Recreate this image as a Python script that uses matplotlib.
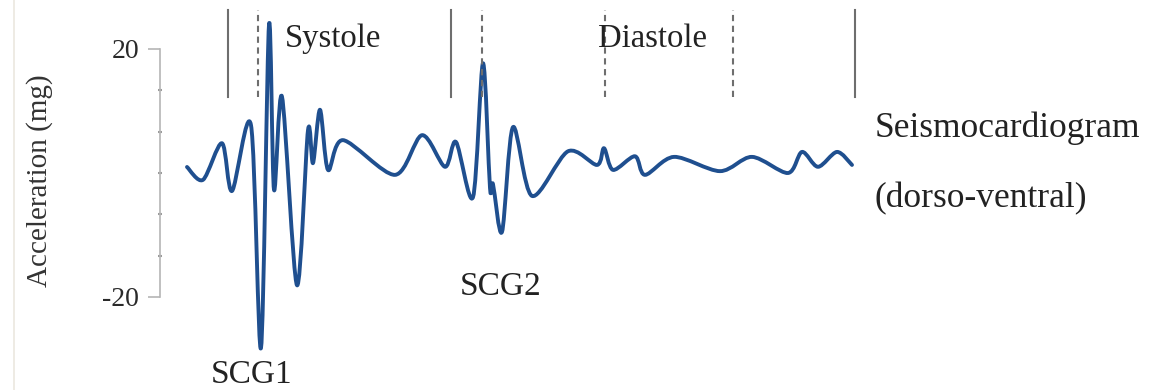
import matplotlib
matplotlib.use("Agg")
import matplotlib.pyplot as plt
import numpy as np
from matplotlib.path import Path
from matplotlib.patches import PathPatch

plt.rcParams["font.family"] = ["Liberation Serif", "DejaVu Serif"]

# one heartbeat of the dorso-ventral SCG (time in ms, acceleration in mg)
t_ms = [1, 17, 36, 46, 65, 75, 83, 88, 96, 111, 122, 127, 134, 142, 157,
        209, 236, 259, 270, 287, 297, 304, 307, 316, 327, 346, 382, 411,
        418, 427, 449, 459, 488, 534, 566, 602, 616, 632, 651, 666]
acc_mg = [0.97, -1.1, 4.8, -2.9, 7.7, -28.2, 23.9, -2.7, 12.3, -18.1, 6.9,
          1.6, 10.2, 0.5, 5.3, -0.3, 6.1, 1.0, 5.0, -3.9, 17.7, -2.4, -1.8,
          -9.5, 7.4, -3.7, 3.5, 1.3, 4.0, 0.5, 2.7, -0.3, 2.6, 0.3, 2.6,
          0.0, 3.4, 1.0, 3.4, 1.3]

# cardiac cycle markers
solid_marks = [42, 265, 669]
dashed_marks = [72, 296, 419, 547]

fig = plt.figure(figsize=(11.49, 3.9), dpi=100)
W, H = 1149, 390
ax = fig.add_axes([160 / W, 1 - 297 / H, 700 / W, 248 / H])
ax.set_xlim(-26, 674)
ax.set_ylim(-20, 20)

# smooth trace: cardinal spline through the samples, drawn as bezier curves
pts = np.column_stack([t_ms, acc_mg])
k = 0.15
verts = [pts[0]]
codes = [Path.MOVETO]
n = len(pts)
for i in range(n - 1):
    p0 = pts[max(i - 1, 0)]
    p1 = pts[i]
    p2 = pts[i + 1]
    p3 = pts[min(i + 2, n - 1)]
    verts += [p1 + (p2 - p0) * k, p2 - (p3 - p1) * k, p2]
    codes += [Path.CURVE4] * 3
trace = PathPatch(Path(verts, codes), facecolor="none", edgecolor="#1f4f8f",
                  lw=2.8, capstyle="round", joinstyle="round", clip_on=False)
ax.add_patch(trace)

for m in solid_marks:
    ax.plot([m, m], [12.3, 26.3], color="#6e6e6e", lw=1.5, clip_on=False)
for m in dashed_marks:
    ax.plot([m, m], [12.3, 26.3], color="#6e6e6e", lw=1.5, ls=(0, (3, 2.2)),
            clip_on=False)

for s in ["top", "right", "bottom"]:
    ax.spines[s].set_visible(False)
ax.spines["left"].set_color("#b5b5b5")
ax.spines["left"].set_linewidth(1.2)
ax.set_xticks([])
ax.set_yticks([-20, 20])
ax.set_yticklabels(["-20", "20"])
ax.set_yticks([-13.33, -6.67, 0, 6.67, 13.33], minor=True)
ax.tick_params(axis="y", which="major", length=9, width=1.2, color="#b5b5b5",
               labelsize=20, labelcolor="#2a2a2a", pad=6)
ax.tick_params(axis="y", which="minor", length=3, width=1.5, color="#9a9a9a",
               direction="inout")
ax.set_ylabel("Acceleration (mg)", fontsize=21, color="#333333")
ax.yaxis.set_label_coords(-0.153, 0.468)
ax.patch.set_visible(False)

txt = dict(color="#222222", clip_on=False)
ax.text(99, 20.3, "Systole", fontsize=23.5, va="baseline", **txt)
ax.text(412, 20.3, "Diastole", fontsize=23.5, va="baseline", **txt)
ax.text(66, -33.9, "SCG1", fontsize=24, ha="center", va="baseline", **txt)
ax.text(315, -19.7, "SCG2", fontsize=24, ha="center", va="baseline", **txt)
ax.text(689, 5.8, "Seismocardiogram", fontsize=25.5, va="baseline", **txt)
ax.text(689, -5.6, "(dorso-ventral)", fontsize=25.5, va="baseline", **txt)

# faint frame edge on the left
fig.add_artist(plt.Line2D([14 / W, 14 / W], [0, 1], color="#ebe7df", lw=1.2))

fig.savefig("out.png", dpi=100)
